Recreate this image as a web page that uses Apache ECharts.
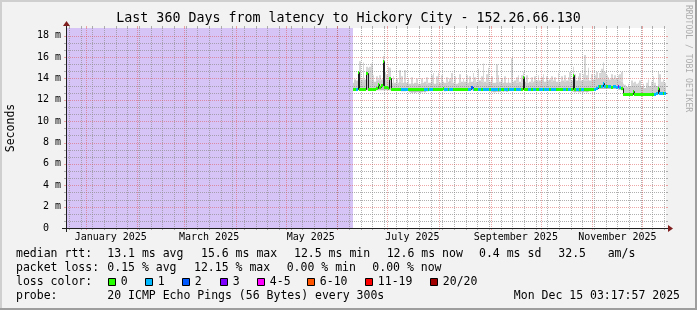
<!DOCTYPE html>
<html><head><meta charset="utf-8">
<script src="https://cdn.jsdelivr.net/npm/echarts@6/dist/echarts.min.js"></script>
<style>html,body{margin:0;padding:0;background:#f2f2f2}#c{width:697px;height:310px}</style>
</head><body><div id="c"></div>
<script>
// ---------- DATA ----------
const startTime = Date.UTC(2024, 11, 20, 3, 17, 57);
const spanDays = 360;
const firstDataDay = 172;           // data (days since start) begins here; before: unknown
const titleText = 'Last 360 Days from latency to Hickory City - 152.26.66.130';
const yTickValues = [0, 2, 4, 6, 8, 10, 12, 14, 16, 18];
const labelMonths = [0, 2, 4, 6, 8, 10];
const monthLabels = ['January 2025', 'March 2025', 'May 2025', 'July 2025', 'September 2025', 'November 2025'];

// median rtt (ms), one value per day from firstDataDay
const median = [
  13.0,13.0,13.0,14.6,13.0,13.0,13.0,13.0,14.5,13.0,
  13.0,13.0,13.0,13.0,13.1,13.5,13.2,13.4,15.6,13.2,
  13.2,13.1,14.0,13.0,13.0,13.0,13.0,13.0,13.05,13.05,
  13.05,13.05,13.05,13.0,13.0,13.0,13.0,13.0,13.0,13.0,
  13.0,13.05,13.05,13.0,13.0,13.05,13.0,13.0,13.0,13.0,
  13.0,13.0,13.05,13.05,13.1,13.05,13.05,13.0,13.0,13.0,
  13.0,13.0,13.0,13.05,13.0,13.0,13.0,13.05,13.05,13.0,
  13.05,13.2,13.05,13.0,13.0,13.05,13.05,13.05,13.05,13.05,
  13.05,13.05,13.0,13.0,13.0,13.05,13.05,13.05,13.05,13.05,
  13.05,13.0,13.0,13.0,13.05,13.0,13.0,13.05,13.05,13.05,
  13.05,13.05,14.1,13.05,13.05,13.0,13.0,13.05,13.05,13.0,
  13.0,13.05,13.05,13.05,13.0,13.05,13.05,13.05,13.0,13.0,
  13.0,13.0,13.0,13.05,13.05,13.05,13.05,13.05,13.0,13.0,
  13.0,13.0,14.3,13.0,13.0,13.0,13.05,13.05,13.05,13.05,
  13.05,13.05,13.05,13.05,13.05,13.05,13.1,13.25,13.25,13.3,
  13.6,13.3,13.25,13.25,13.25,13.2,13.25,13.25,13.2,13.3,
  13.2,13.15,12.55,12.5,12.5,12.5,12.55,12.55,12.8,12.58,
  12.55,12.55,12.55,12.55,12.55,12.55,12.55,12.55,12.55,12.55,
  12.55,12.55,12.6,13.1,12.6,12.6,12.6,12.6
];
// loss colour class per day (index into lossColors)
const loss = [
  0,0,1,0,0,0,0,0,0,0,
  0,0,0,0,0,0,0,0,0,0,
  0,0,0,0,0,0,0,0,0,1,
  1,1,1,0,0,0,0,0,0,0,
  0,0,0,1,1,0,1,1,0,0,
  0,0,0,0,0,1,1,0,1,1,
  0,0,0,0,0,0,0,0,0,1,
  1,2,1,0,0,1,1,0,1,1,
  1,1,0,1,1,1,1,0,1,0,
  0,1,1,0,1,1,1,0,1,1,
  1,0,0,0,0,1,1,0,1,1,
  0,0,1,1,0,1,1,1,0,1,
  1,1,0,0,0,0,1,1,0,1,
  1,0,0,0,1,1,0,1,1,0,
  0,0,0,0,0,1,1,1,0,1,
  1,1,0,1,1,0,1,1,1,3,
  1,0,0,0,0,0,0,0,0,0,
  0,0,0,0,0,0,0,0,0,0,
  0,1,1,0,1,1,0,1
];
// smoke: bottom, top of dense smoke, top of faint spikes (null = none)
const smokeLo = [
  12.9,12.9,12.9,12.9,12.9,12.9,12.9,12.9,12.9,12.9,
  12.9,12.9,12.9,12.9,12.9,12.9,12.9,12.9,12.9,12.9,
  12.9,12.9,12.9,12.9,12.9,12.9,12.9,12.85,12.85,12.8,
  12.8,12.8,12.85,12.8,12.7,12.65,12.7,12.65,12.7,12.7,
  12.65,12.7,12.75,12.7,12.8,12.8,12.85,12.9,12.9,12.85,
  12.85,12.9,12.9,12.85,12.85,12.8,12.9,12.9,12.85,12.9,
  12.9,12.85,12.9,12.9,12.85,12.9,12.9,12.85,12.9,12.9,
  12.9,12.9,12.85,12.9,12.9,12.85,12.9,12.85,12.9,12.85,
  12.85,12.9,12.8,12.75,12.7,12.7,12.75,12.7,12.75,12.8,
  12.75,12.8,12.75,12.8,12.85,12.9,12.85,12.9,12.9,12.9,
  12.9,12.85,12.9,12.9,12.85,12.9,12.9,12.85,12.9,12.9,
  12.85,12.9,12.9,12.85,12.9,12.9,12.85,12.9,12.9,12.85,
  12.9,12.9,12.85,12.9,12.9,12.85,12.9,12.9,12.85,12.9,
  12.85,12.8,12.75,12.7,12.75,12.7,12.7,12.75,12.7,12.75,
  12.7,12.75,12.8,12.8,12.85,12.9,12.95,13.0,13.0,13.0,
  13.0,13.0,13.0,13.0,13.0,13.0,13.0,13.0,13.0,12.95,
  12.95,12.9,12.4,12.4,12.4,12.4,12.45,12.45,12.45,12.45,
  12.45,12.45,12.45,12.45,12.45,12.45,12.45,12.45,12.45,12.45,
  12.45,12.45,12.45,12.5,12.45,12.45,12.45,12.45
];
const smokeHi = [
  13.6,13.9,13.8,14.0,13.8,13.9,13.7,13.9,14.2,13.8,
  13.9,13.8,13.9,13.7,13.8,13.9,13.8,13.9,15.8,13.9,
  13.8,13.7,14.2,13.6,13.5,13.6,13.5,13.6,13.7,13.6,
  13.6,13.7,13.6,13.5,13.5,13.6,13.5,13.6,13.6,13.5,
  13.5,13.6,13.6,13.7,13.5,13.6,13.6,13.7,13.6,13.5,
  13.6,13.5,13.6,13.6,13.7,13.6,13.6,13.7,13.8,13.6,
  13.6,13.5,13.5,13.6,13.6,13.7,13.6,13.7,13.6,13.6,
  13.7,13.7,13.8,13.6,13.7,13.7,13.8,13.7,13.6,13.7,
  13.6,13.7,13.7,13.6,13.6,13.6,13.7,13.6,13.7,13.6,
  13.6,13.7,13.6,13.7,13.6,13.6,13.7,13.8,13.6,13.6,
  13.7,13.6,14.3,13.7,13.6,13.6,13.7,13.6,13.7,13.8,
  13.8,13.7,13.8,13.9,13.8,13.7,13.8,13.8,13.9,13.7,
  13.8,13.8,13.7,13.6,13.7,13.8,13.8,13.7,13.8,13.8,
  13.7,13.8,14.5,13.9,13.8,13.9,13.8,13.8,13.9,13.8,
  13.8,13.9,13.8,13.8,13.9,13.9,14.0,14.0,14.1,14.0,
  14.0,14.0,13.9,14.0,13.9,14.1,14.0,13.9,14.0,13.9,
  13.8,13.7,13.2,13.1,13.2,13.1,13.2,13.3,13.3,13.2,
  13.2,13.1,13.2,13.2,13.3,13.1,13.2,13.2,13.3,13.2,
  13.3,13.4,13.3,13.5,13.2,13.3,13.2,13.1
];
const smokePeak = [
  null,null,null,null,15.6,null,15.5,null,15.1,15.0,
  15.1,15.4,14.3,null,14.2,null,14.3,null,16.1,14.6,
  14.4,15.1,15.0,null,14.2,null,14.0,null,14.8,14.2,
  null,14.8,null,14.0,null,14.1,null,null,14.0,null,
  null,14.0,null,null,14.1,null,null,14.3,14.5,null,
  14.2,14.5,null,14.3,null,null,14.1,null,14.0,14.5,
  null,14.2,null,null,14.4,null,14.0,null,14.3,null,
  14.2,null,14.5,14.1,null,14.9,null,14.2,15.4,null,
  14.4,15.0,null,14.2,null,null,15.3,14.3,null,14.0,
  null,14.2,null,14.0,null,15.9,null,null,14.1,14.3,
  null,14.3,14.6,null,14.3,null,null,14.1,null,14.2,
  null,14.3,null,14.1,14.4,null,14.2,null,null,14.2,
  null,14.1,null,14.5,null,14.2,null,14.3,null,14.1,
  14.6,null,15.1,14.4,null,14.2,14.5,null,14.4,16.2,
  14.3,15.0,null,14.4,null,14.3,14.6,null,14.5,14.9,
  15.5,14.6,14.3,14.1,null,14.4,null,14.3,null,14.3,
  14.4,14.6,13.5,13.4,null,13.5,null,13.8,13.6,13.7,
  13.5,13.6,13.8,null,13.5,null,13.6,13.9,null,13.7,
  14.2,13.6,null,14.7,14.4,13.7,13.9,13.6
];
const statsRtt = ['13.1 ms avg', '15.6 ms max', '12.5 ms min', '12.6 ms now', '0.4 ms sd', '32.5', 'am/s'];
const statsLoss = ['0.15 % avg', '12.15 % max', '0.00 % min', '0.00 % now'];
const lossLabels = ['0', '1', '2', '3', '4-5', '6-10', '11-19', '20/20'];
const lossColors = ['#26ff00', '#00b8ff', '#0059ff', '#7e00ff', '#ff00ff', '#ff5500', '#ff0000', '#a00000'];
const probeText = '20 ICMP Echo Pings (56 Bytes) every 300s';
const dateText = 'Mon Dec 15 03:17:57 2025';

// ---------- derived ----------
const DAY = 86400000;
const toDay = t => (t - startTime) / DAY;
const monthStarts = [];
for (let m = 0; m < 12; m++) monthStarts.push(toDay(Date.UTC(2025, m, 1)));
const weekLines = [];
for (let t = Date.UTC(2024, 11, 22); toDay(t) < spanDays; t += 7 * DAY) weekLines.push(toDay(t));
const monthLabelPos = labelMonths.map(m => toDay(Date.UTC(2025, m, 1)) + 15);
const yMinor = [];
yTickValues.forEach(v => { if (v < 18) { yMinor.push(v + 2 / 3, v + 4 / 3); } });

const gridDefs = [];
weekLines.forEach(v => gridDefs.push({ dir: 'v', v: v, major: false }));
yMinor.forEach(v => gridDefs.push({ dir: 'h', v: v, major: false }));
monthStarts.forEach(v => gridDefs.push({ dir: 'v', v: v, major: true }));
yTickValues.filter(v => v > 0).forEach(v => gridDefs.push({ dir: 'h', v: v, major: true }));

const MONO = 'DejaVu Sans Mono';
const GRID_MINOR = 'rgba(143,143,143,0.7)';
const GRID_MAJOR = 'rgba(222,79,79,0.5)';
const YMAX = 18.72;

const chart = echarts.init(document.getElementById('c'), null, { renderer: 'canvas' });

const dayData = median.map((m, i) => [firstDataDay + i, m]);
const px = v => Math.round(v);

function smokeItem(params, api) {
  const i = params.dataIndex;
  const d = firstDataDay + i;
  const x0 = px(api.coord([d, 0])[0]), x1 = px(api.coord([d + 1, 0])[0]);
  const yLo = api.coord([d, smokeLo[i]])[1];
  const yMed = api.coord([d, median[i]])[1];
  const yHi = api.coord([d, smokeHi[i]])[1];
  const ch = [];
  if (smokePeak[i] != null) {
    const yPk = api.coord([d, smokePeak[i]])[1];
    ch.push({ type: 'rect', shape: { x: x0, y: yPk, width: x1 - x0, height: yHi - yPk }, style: { fill: '#d6d6d6' } });
  }
  ch.push({ type: 'rect', shape: { x: x0, y: yHi, width: x1 - x0, height: yMed - yHi }, style: { fill: '#cdcdcd' } });
  ch.push({ type: 'rect', shape: { x: x0, y: yMed, width: x1 - x0, height: yLo - yMed }, style: { fill: '#bcbcbc' } });
  return { type: 'group', children: ch };
}

function unknownItem(params, api) {
  const xa = px(api.coord([0, 0])[0]), xb = px(api.coord([firstDataDay, 0])[0]);
  const yt = api.coord([0, YMAX])[1], yb = api.coord([0, 0])[1];
  return { type: 'rect', shape: { x: xa, y: yt, width: xb - xa, height: yb - yt }, style: { fill: '#d6c4f7' } };
}

function gridItem(params, api) {
  const g = gridDefs[params.dataIndex];
  const cs = params.coordSys;
  const color = g.major ? GRID_MAJOR : GRID_MINOR;
  const ch = [];
  if (g.dir === 'v') {
    const x = px(api.coord([g.v, 0])[0]) + 0.5;
    ch.push({ type: 'line', shape: { x1: x, y1: cs.y, x2: x, y2: cs.y + cs.height }, style: { stroke: color, lineWidth: 1, lineDash: [1, 1] } });
    ch.push({ type: 'line', shape: { x1: x, y1: cs.y - 2, x2: x, y2: cs.y }, style: { stroke: color, lineWidth: 1 } });
    ch.push({ type: 'line', shape: { x1: x, y1: cs.y + cs.height, x2: x, y2: cs.y + cs.height + 2 }, style: { stroke: color, lineWidth: 1 } });
  } else {
    const y = px(api.coord([0, g.v])[1]) + 0.5;
    ch.push({ type: 'line', shape: { x1: cs.x, y1: y, x2: cs.x + cs.width, y2: y }, style: { stroke: color, lineWidth: 1, lineDash: [1, 1] } });
    ch.push({ type: 'line', shape: { x1: cs.x - 2, y1: y, x2: cs.x, y2: y }, style: { stroke: color, lineWidth: 1 } });
    ch.push({ type: 'line', shape: { x1: cs.x + cs.width, y1: y, x2: cs.x + cs.width + 2, y2: y }, style: { stroke: color, lineWidth: 1 } });
  }
  return { type: 'group', children: ch, silent: true };
}

function medianBlack(params, api) {
  const i = params.dataIndex;
  const d = firstDataDay + i;
  const x0 = px(api.coord([d, 0])[0]) + 0.5, x1 = px(api.coord([d + 1, 0])[0]) + 0.5;
  const y = px(api.coord([d, median[i]])[1]) + 0.5;
  const yp = i > 0 ? px(api.coord([d, median[i - 1]])[1]) + 0.5 : y;
  return { type: 'polyline', shape: { points: [[x0, yp], [x0, y], [x1, y]] }, style: { stroke: '#202020', lineWidth: 1, fill: null } };
}

function medianColor(params, api) {
  const i = params.dataIndex;
  const d = firstDataDay + i;
  const x0 = px(api.coord([d, 0])[0]), x1 = px(api.coord([d + 1, 0])[0]);
  const y = px(api.coord([d, median[i]])[1]) + 0.5;
  return { type: 'line', shape: { x1: x0, y1: y, x2: x1, y2: y }, style: { stroke: lossColors[loss[i]], lineWidth: 3 } };
}

// legend layout
const graphics = [];
const T = (text, x, y, opt) => graphics.push(Object.assign({ type: 'text', x: x, y: y, z: 100,
  style: Object.assign({ text: text, font: '11.5px "' + MONO + '"', fill: '#000', textAlign: 'left', textVerticalAlign: 'middle' }, (opt && opt.style) || {}) },
  opt && opt.rotation !== undefined ? { rotation: opt.rotation } : {}));

// frame
graphics.push({ type: 'rect', z: 100, shape: { x: 0, y: 0, width: 697, height: 2 }, style: { fill: '#cfcfcf' } });
graphics.push({ type: 'rect', z: 100, shape: { x: 0, y: 0, width: 2, height: 310 }, style: { fill: '#cfcfcf' } });
graphics.push({ type: 'rect', z: 100, shape: { x: 0, y: 308, width: 697, height: 2 }, style: { fill: '#9e9e9e' } });
graphics.push({ type: 'rect', z: 100, shape: { x: 695, y: 0, width: 2, height: 310 }, style: { fill: '#9e9e9e' } });

T(titleText, 348.5, 19, { style: { font: '13.3px "' + MONO + '"', textAlign: 'center' } });
T('Seconds', 11, 128, { rotation: Math.PI / 2, style: { textAlign: 'center' } });
T('RRDTOOL / TOBI OETIKER', 688, 5, { rotation: -Math.PI / 2, style: { font: '8.1px "' + MONO + '"', fill: '#acacac' } });

const L1 = 254.5, L2 = 268.5, L3 = 282.3, L4 = 296.5;
T('median rtt:', 16, L1);
const rttX = [107.3, 201, 294, 386.7, 479, 558.3, 607.7];
statsRtt.forEach((s, i) => T(s, rttX[i], L1));
T('packet loss:', 16, L2);
const lossX = [107.3, 194, 286.7, 372.3];
statsLoss.forEach((s, i) => T(s, lossX[i], L2));
T('loss color:', 16, L3);
const boxX = [108.5, 145.5, 182.5, 220.5, 257.5, 307.5, 365.5, 430.5];
lossLabels.forEach((s, i) => {
  graphics.push({ type: 'rect', z: 100, shape: { x: boxX[i], y: 278.5, width: 7, height: 7 }, style: { fill: lossColors[i], stroke: '#000', lineWidth: 1 } });
  T(s, boxX[i] + 12.3, L3);
});
T('probe:', 16, L4);
T(probeText, 107.3, L4);
T(dateText, 680, L4, { style: { textAlign: 'right' } });

const option = {
  animation: false,
  backgroundColor: '#f2f2f2',
  grid: { left: 66, right: 31, top: 28, bottom: 82, show: true, backgroundColor: '#ffffff', borderWidth: 0 },
  xAxis: {
    type: 'value', min: 0, max: spanDays,
    axisLine: { show: false }, axisTick: { show: false }, splitLine: { show: false },
    axisLabel: {
      customValues: monthLabelPos,
      formatter: v => { const k = monthLabelPos.findIndex(p => Math.abs(p - v) < 1e-6); return k >= 0 ? monthLabels[k] : ''; },
      fontFamily: MONO, fontSize: 10, color: '#000', margin: 4
    }
  },
  yAxis: {
    type: 'value', min: 0, max: YMAX, interval: 2,
    axisLine: { show: false }, axisTick: { show: false }, splitLine: { show: false },
    axisLabel: {
      formatter: v => (yTickValues.indexOf(v) >= 0 ? (v === 0 ? '0  ' : v + ' m') : ''),
      fontFamily: MONO, fontSize: 10, color: '#000', margin: 5
    }
  },
  series: [
    { type: 'custom', renderItem: unknownItem, data: [[0, 0]], silent: true },
    { type: 'custom', renderItem: smokeItem, data: dayData, silent: true },
    { type: 'custom', renderItem: gridItem, data: gridDefs.map(g => [g.dir === 'v' ? g.v : 0, g.dir === 'h' ? g.v : 0]), silent: true },
    { type: 'custom', renderItem: medianBlack, data: dayData, silent: true },
    { type: 'custom', renderItem: medianColor, data: dayData, silent: true }
  ],
  graphic: graphics
};
chart.setOption(option);

// axes with arrows (rrdtool style), placed from the grid's pixel mapping
const o = chart.convertToPixel({ gridIndex: 0 }, [0, 0]);
const e = chart.convertToPixel({ gridIndex: 0 }, [spanDays, YMAX]);
const X0 = Math.round(o[0]), Y0 = Math.round(o[1]), X1 = Math.round(e[0]), Y1 = Math.round(e[1]);
const axisG = [
  { type: 'line', z: 110, shape: { x1: X0 - 4, y1: Y0 + 0.5, x2: X1 + 4, y2: Y0 + 0.5 }, style: { stroke: '#1f1f1f', lineWidth: 1 } },
  { type: 'line', z: 110, shape: { x1: X0 + 0.5, y1: Y0 + 4, x2: X0 + 0.5, y2: Y1 - 4 }, style: { stroke: '#1f1f1f', lineWidth: 1 } },
  { type: 'polygon', z: 111, shape: { points: [[X1 + 2, Y0 - 3], [X1 + 2, Y0 + 4], [X1 + 7, Y0 + 0.5]] }, style: { fill: '#801f1f' } },
  { type: 'polygon', z: 111, shape: { points: [[X0 - 3, Y1 - 2], [X0 + 4, Y1 - 2], [X0 + 0.5, Y1 - 7]] }, style: { fill: '#801f1f' } }
];
chart.setOption({ graphic: graphics.concat(axisG) });
</script></body></html>
